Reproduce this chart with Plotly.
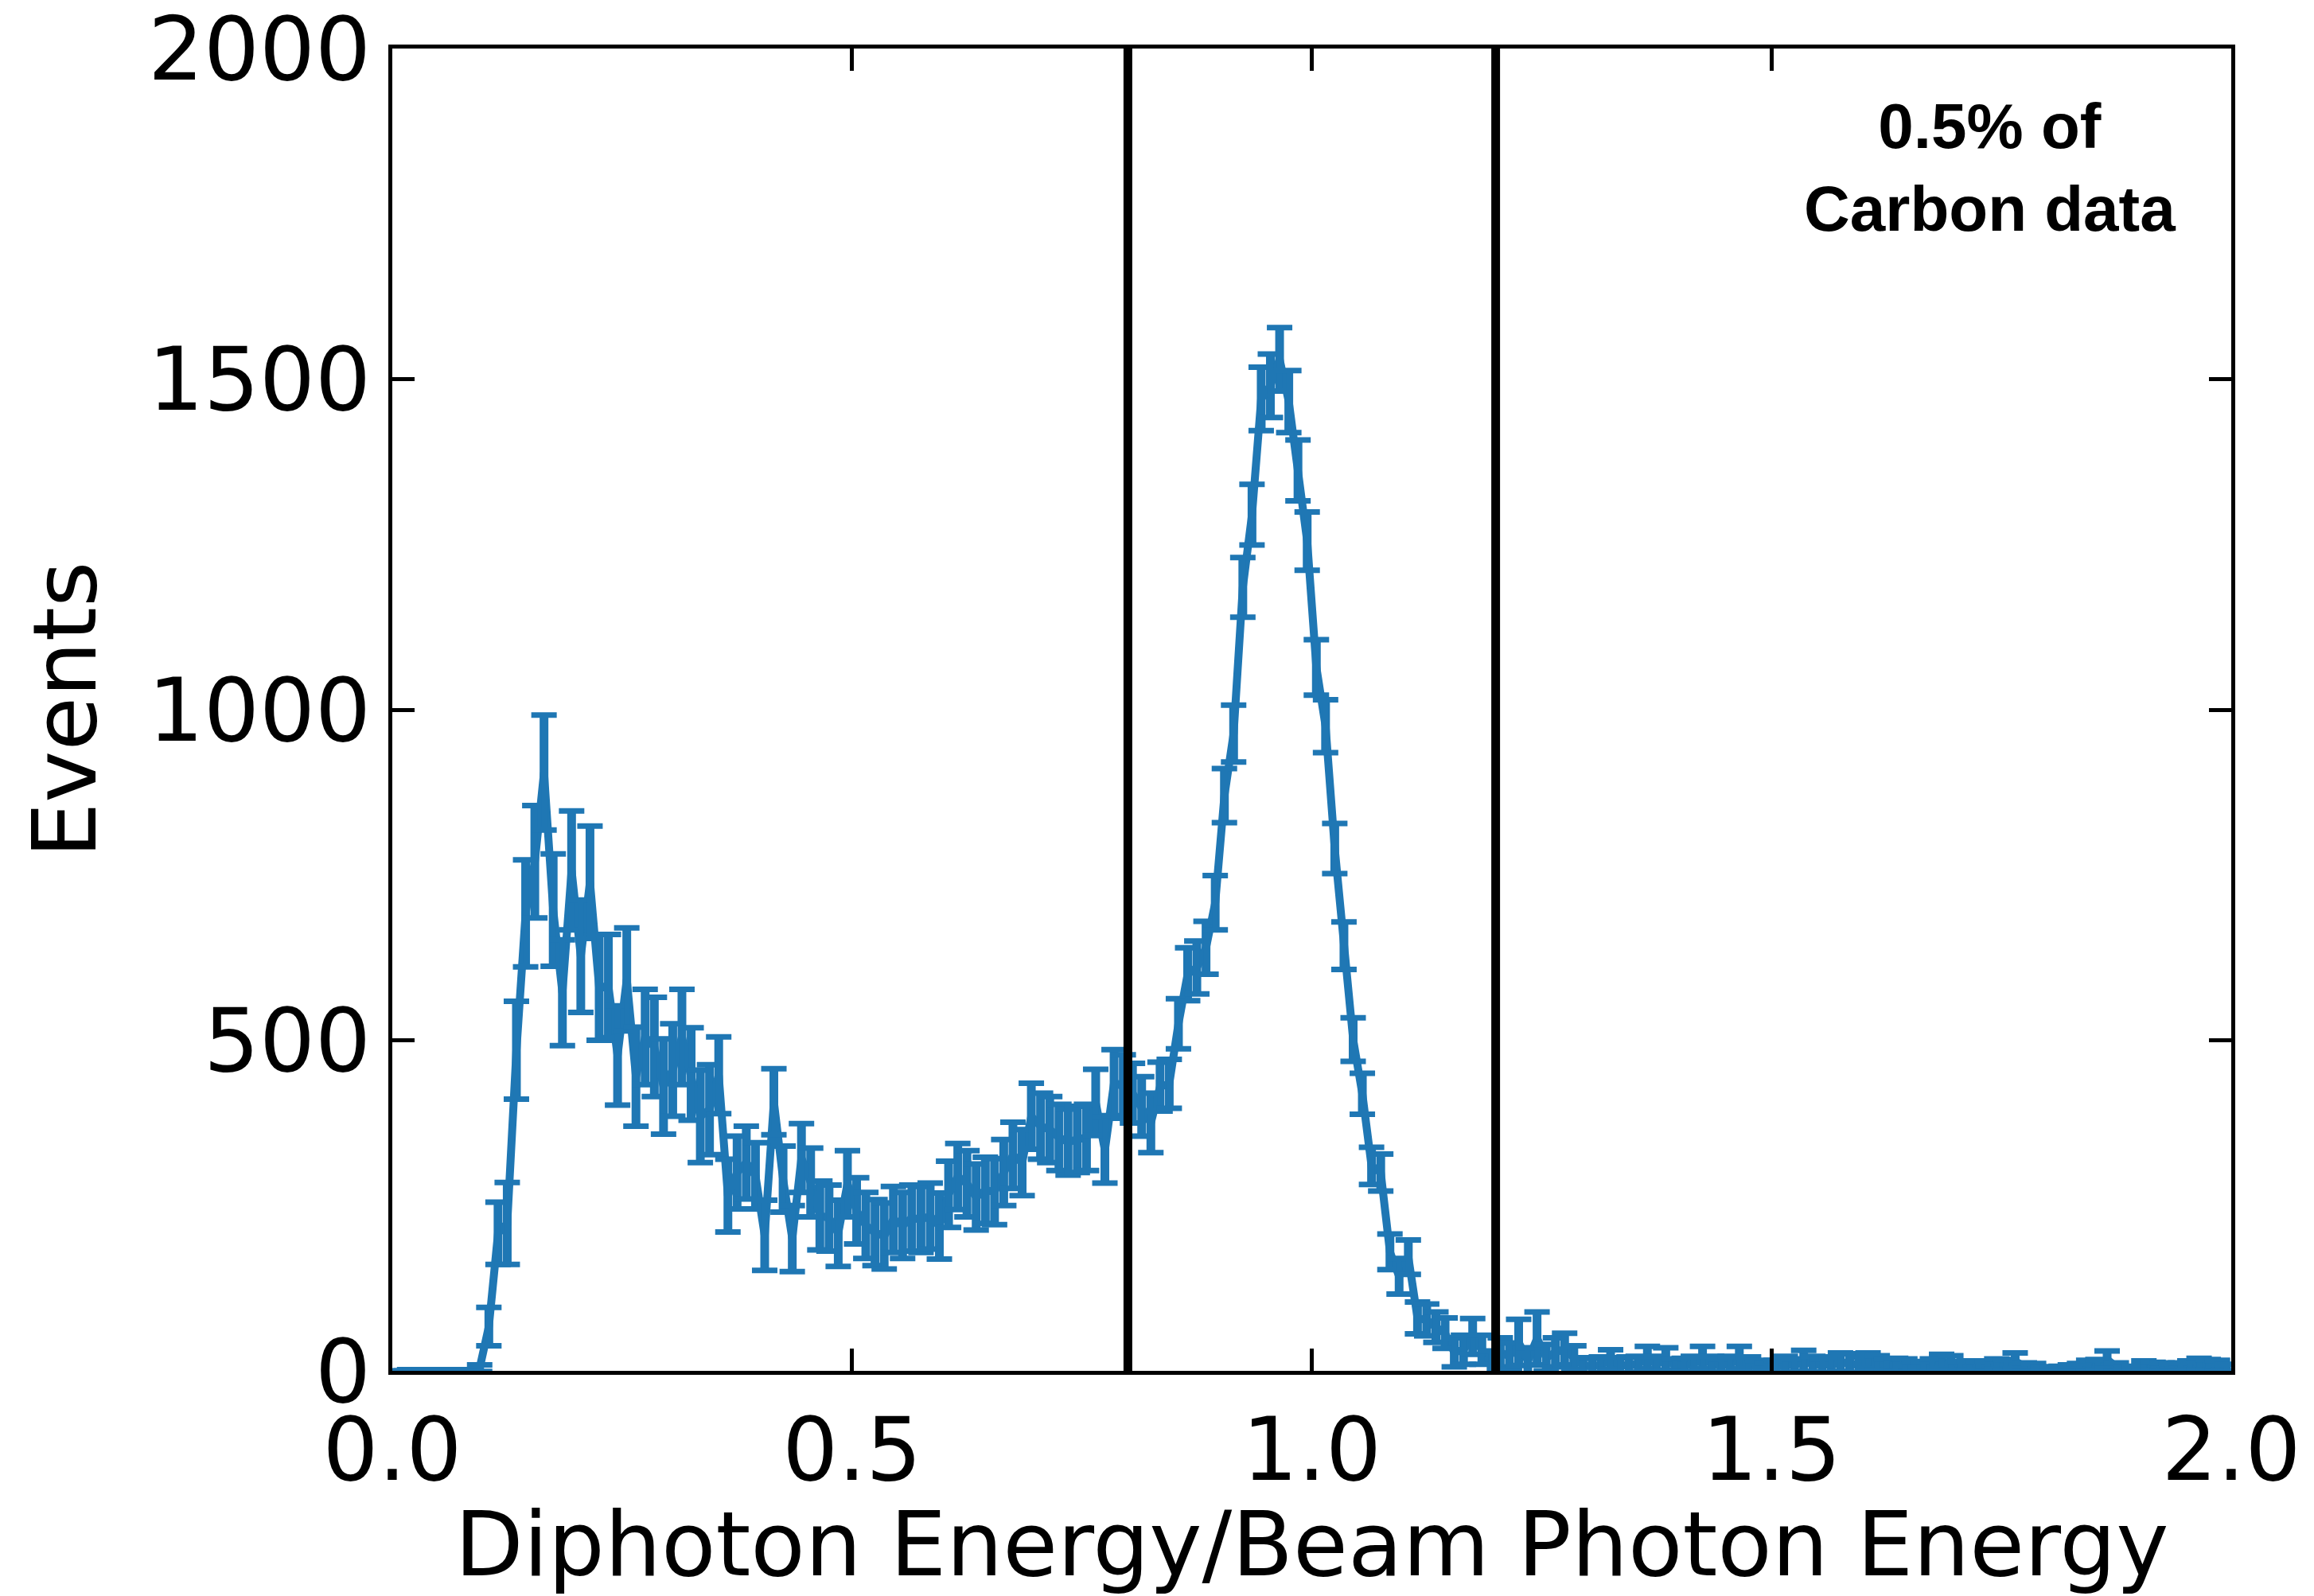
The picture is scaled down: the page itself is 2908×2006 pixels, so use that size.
import plotly.graph_objects as go

# Histogram of diphoton energy / beam photon energy, 200 bins of width 0.01
bin_width = 0.01
bin_centers = [round(0.005 + bin_width * i, 3) for i in range(200)]

events = [
    0, 0, 0, 0, 0, 0, 0, 0, 0, 4,
    67, 208, 223, 485, 692, 770, 905, 697, 572, 757,
    627, 739, 580, 582, 477, 592, 445, 505, 490, 430,
    455, 505, 449, 385, 395, 447, 265, 300, 315, 295,
    205, 407, 290, 200, 322, 285, 235, 231, 208, 283,
    242, 220, 209, 204, 229, 220, 231, 229, 234, 219,
    267, 294, 283, 263, 273, 271, 300, 326, 315, 385,
    370, 365, 353, 346, 350, 353, 406, 334, 436, 430,
    420, 400, 375, 430, 434, 525, 600, 610, 640, 708,
    870, 964, 1185, 1295, 1470, 1490, 1530, 1466, 1362, 1255,
    1064, 975, 790, 643, 501, 419, 310, 300, 180, 143,
    172, 80, 77, 66, 57, 28, 32, 52, 32, 12,
    28, 22, 43, 15, 49, 20, 28, 33, 20, 8,
    7, 9, 17, 8, 9, 10, 20, 10, 18, 8,
    9, 10, 20, 10, 8, 10, 20, 9, 6, 4,
    6, 10, 8, 15, 10, 8, 9, 13, 12, 9,
    15, 12, 8, 9, 8, 6, 5, 8, 14, 12,
    6, 8, 6, 7, 10, 9, 15, 6, 5, 2,
    2, 3, 4, 5, 8, 9, 17, 6, 2, 3,
    8, 7, 6, 5, 6, 8, 10, 9, 8, 5,
]

errors = [
    0, 0, 0, 0, 0, 0, 0, 0, 0, 5,
    29, 47, 62, 74, 81, 85, 87, 85, 80, 90,
    85, 85, 80, 78, 75, 78, 75, 72, 75, 72,
    70, 72, 70, 70, 68, 58, 55, 55, 55, 50,
    53, 50, 50, 50, 52, 52, 52, 50, 50, 50,
    50, 50, 50, 50, 50, 50, 50, 50, 50, 50,
    50, 50, 50, 50, 50, 50, 50, 50, 50, 50,
    50, 50, 50, 50, 50, 50, 50, 50, 50, 48,
    45, 45, 45, 37, 37, 38, 40, 40, 40, 41,
    41, 43, 45, 46, 48, 48, 48, 47, 46, 44,
    42, 40, 38, 36, 33, 31, 28, 28, 27, 27,
    26, 24, 24, 23, 23, 22, 22, 27, 22, 18,
    22, 20, 35, 20, 40, 20, 22, 24, 18, 12,
    12, 12, 15, 12, 12, 12, 17, 12, 17, 10,
    10, 12, 17, 12, 10, 12, 17, 12, 10, 8,
    10, 12, 10, 16, 12, 10, 12, 14, 14, 12,
    12, 11, 10, 10, 10, 8, 8, 10, 11, 11,
    8, 7, 8, 8, 8, 8, 12, 6, 6, 4,
    4, 4, 5, 6, 8, 8, 13, 6, 3, 4,
    7, 6, 6, 6, 6, 7, 9, 8, 8, 5,
]

# Selection window boundaries
cuts = [0.8, 1.2]

x_ticks = [0.0, 0.5, 1.0, 1.5, 2.0]
y_ticks = [0, 500, 1000, 1500, 2000]

blue = "#1f77b4"
label_font = dict(family="DejaVu Sans", size=110, color="black")
title_font = dict(family="DejaVu Sans", size=112, color="black")

fig = go.Figure()

# Connecting line with thick error bars (no caps)
fig.add_trace(go.Scatter(
    x=bin_centers, y=events, mode="lines",
    line=dict(color=blue, width=10),
    error_y=dict(type="data", array=errors, visible=True,
                 color=blue, thickness=11, width=0),
    showlegend=False,
))
# Error bar caps
fig.add_trace(go.Scatter(
    x=bin_centers, y=events, mode="markers",
    marker=dict(size=1, color="rgba(0,0,0,0)"),
    error_y=dict(type="data", array=errors, visible=True,
                 color=blue, thickness=7, width=16),
    showlegend=False,
))

for c in cuts:
    fig.add_shape(type="line", xref="x", yref="paper", x0=c, x1=c, y0=0, y1=1,
                  line=dict(color="black", width=11))

fig.add_annotation(
    x=1.737, y=1820, xref="x", yref="y",
    text="<b>0.5% of<br>Carbon data</b>", showarrow=False,
    font=dict(family="Liberation Sans", size=80, color="black"),
    align="center",
)

axis_common = dict(
    showline=True, linecolor="black", linewidth=5, mirror="allticks",
    ticks="inside", ticklen=28, tickwidth=5, tickcolor="black",
    showgrid=False, zeroline=False, tickfont=label_font,
    ticklabeloverflow="allow", automargin=False,
)

fig.update_xaxes(
    range=[0, 2], tickvals=x_ticks, ticktext=[f"{v:.1f}" for v in x_ticks],
    title=dict(text="Diphoton Energy/Beam Photon Energy", font=title_font, standoff=40),
    **axis_common,
)
fig.update_yaxes(
    range=[0, 2000], tickvals=y_ticks, ticktext=[str(v) for v in y_ticks],
    title=dict(text="Events", font=label_font, standoff=30),
    **axis_common,
)

fig.update_layout(
    width=2908, height=2006,
    margin=dict(l=493, r=104, t=61, b=283),
    paper_bgcolor="white", plot_bgcolor="white",
)

fig.write_html("out.html")
